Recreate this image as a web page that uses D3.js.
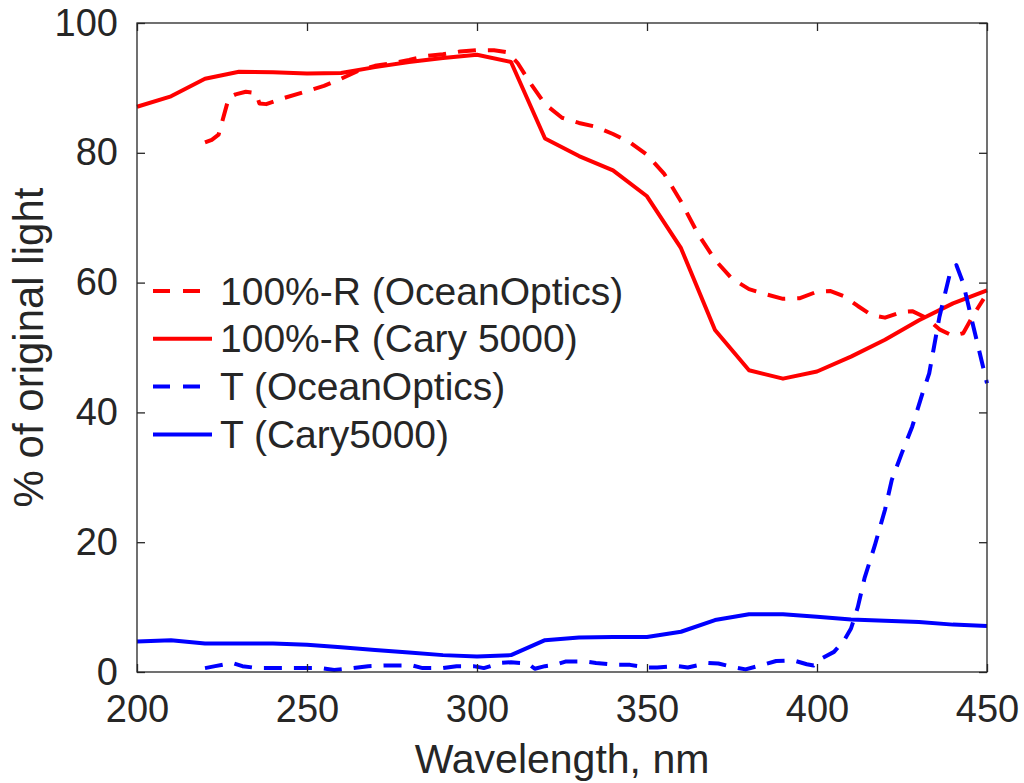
<!DOCTYPE html>
<html>
<head>
<meta charset="utf-8">
<script src="https://cdn.jsdelivr.net/npm/d3@7"></script>
<style>
  body { margin: 0; background: #fff; }
  svg text { font-family: "Liberation Sans", Arial, Helvetica, sans-serif; fill: #262626; }
</style>
</head>
<body>
<svg width="1024" height="783"></svg>
<script>
// wavelength grid of the Cary 5000 runs
var caryWl = [200, 210, 220, 230, 240, 250, 260, 270, 280, 290, 300, 310, 320,
    330, 340, 350, 360, 370, 380, 390, 400, 410, 420, 430, 440, 450];
var caryR = [87.1, 88.7, 91.4, 92.5, 92.4, 92.2, 92.3, 93.2, 94.0, 94.6, 95.1, 94.0, 82.2,
    79.5, 77.3, 73.3, 65.3, 52.7, 46.5, 45.2, 46.3, 48.6, 51.2, 54.2, 56.8, 58.8];
var caryT = [4.7, 4.9, 4.4, 4.4, 4.4, 4.2, 3.8, 3.4, 3.0, 2.6, 2.4, 2.6, 4.9,
    5.3, 5.4, 5.4, 6.2, 8.0, 8.9, 8.9, 8.5, 8.1, 7.9, 7.7, 7.3, 7.1];

// OceanOptics, 100%-R
var ooRWl = [220, 222, 224, 227, 229, 232, 235, 236, 238, 243, 250, 255, 260, 265, 270,
    275, 280, 285, 290, 295, 300, 305, 309, 312, 316, 320, 325, 330, 335, 340, 345, 350,
    355, 360, 365, 370, 375, 380, 385, 390, 395, 400, 404, 408, 412, 416, 420, 425, 428,
    432, 436, 440, 443, 446, 449];
var ooR = [81.6, 82.0, 82.8, 88.5, 89.0, 89.4, 89.2, 87.6, 87.5, 88.4, 89.5, 90.3, 91.4, 92.6, 93.4,
    93.8, 94.3, 94.9, 95.2, 95.6, 95.8, 95.8, 95.5, 93.8, 90.5, 87.5, 85.4, 84.6, 84.0, 82.9, 81.6, 79.7,
    76.8, 72.5, 67.5, 63.5, 60.6, 59.0, 58.2, 57.5, 57.6, 58.6, 58.7, 57.9, 56.4, 55.0, 54.6, 55.5, 55.6,
    54.6, 52.8, 51.8, 52.2, 55.0, 57.5];

// OceanOptics, T
var ooTWl = [220, 223, 226, 228, 231, 234, 237, 240, 245, 249, 254, 258, 262, 268, 273,
    276, 281, 284, 290, 294, 299, 302, 307, 310, 315, 317, 320, 323, 326, 332, 335, 341,
    345, 350, 353, 359, 362, 368, 371, 375, 379, 384, 388, 393, 397, 399, 401, 405, 408,
    410, 412, 414, 417, 420, 422, 425, 428, 431, 433, 436, 439, 441, 443, 446, 450];
var ooT = [0.6, 0.9, 1.2, 1.4, 0.9, 0.7, 0.6, 0.6, 0.6, 0.6, 0.6, 0.3, 0.5, 0.9, 1.0,
    1.0, 1.0, 0.6, 0.6, 0.9, 0.9, 0.6, 1.4, 1.5, 1.3, 0.5, 0.9, 1.1, 1.6, 1.6, 1.4, 1.1,
    1.1, 0.7, 0.7, 0.9, 0.7, 1.4, 1.3, 0.8, 0.4, 1.1, 1.7, 1.8, 1.2, 1.0, 2.0, 3.1, 4.9,
    6.7, 10.0, 14.5, 19.5, 25.0, 29.6, 33.8, 37.8, 42.9, 46.0, 54.7, 61.2, 62.7, 59.9, 53.2, 44.5];

var xTicks = [200, 250, 300, 350, 400, 450];
var yTicks = [0, 20, 40, 60, 80, 100];

var legendNames = ["100%-R (OceanOptics)", "100%-R (Cary 5000)", "T (OceanOptics)", "T (Cary5000)"];
var legendColors = ["#ff0000", "#ff0000", "#0000ff", "#0000ff"];
var legendDashed = [true, false, true, false];

var svg = d3.select("svg");

var x = d3.scaleLinear()
    .domain([200, 450])
    .range([137, 987]);

var y = d3.scaleLinear()
    .domain([0, 100])
    .range([672, 23]);

var axisColor = "#262626";
var dash = "18,12";

// series
var series = [
    { wl: ooRWl, v: ooR, color: legendColors[0], dashed: true },
    { wl: caryWl, v: caryR, color: legendColors[1], dashed: false },
    { wl: ooTWl, v: ooT, color: legendColors[2], dashed: true },
    { wl: caryWl, v: caryT, color: legendColors[3], dashed: false }
];

var line = d3.line()
    .x(function (d) { return x(d[0]); })
    .y(function (d) { return y(d[1]); });

svg.append("g")
    .selectAll("path")
    .data(series)
    .enter().append("path")
    .attr("d", function (s) {
        return line(s.wl.map(function (w, i) { return [w, s.v[i]]; }));
    })
    .attr("fill", "none")
    .attr("stroke", function (s) { return s.color; })
    .attr("stroke-width", 4)
    .attr("stroke-linejoin", "round")
    .attr("stroke-dasharray", function (s) { return s.dashed ? dash : null; });

// axes, inward ticks on all four sides
var xBottom = svg.append("g")
    .attr("transform", "translate(0," + y(0) + ")")
    .call(d3.axisBottom(x).tickValues(xTicks).tickSizeInner(-8).tickSizeOuter(0).tickPadding(23));
var xTop = svg.append("g")
    .attr("transform", "translate(0," + y(100) + ")")
    .call(d3.axisTop(x).tickValues(xTicks).tickSizeInner(-8).tickSizeOuter(0).tickFormat(""));
var yLeft = svg.append("g")
    .attr("transform", "translate(" + x(200) + ",0)")
    .call(d3.axisLeft(y).tickValues(yTicks).tickSizeInner(-8).tickSizeOuter(0).tickPadding(19));
var yRight = svg.append("g")
    .attr("transform", "translate(" + x(450) + ",0)")
    .call(d3.axisRight(y).tickValues(yTicks).tickSizeInner(-8).tickSizeOuter(0).tickFormat(""));

[xBottom, xTop, yLeft, yRight].forEach(function (g) {
    g.select(".domain").remove();
    g.selectAll("line").attr("stroke", axisColor).attr("stroke-width", 1.3);
    g.selectAll("text").attr("font-size", 38).attr("fill", axisColor)
        .style("font-family", "'Liberation Sans', Arial, sans-serif");
});
xBottom.selectAll("text").attr("dy", "0.71em");

svg.append("rect")
    .attr("x", x(200))
    .attr("y", y(100))
    .attr("width", x(450) - x(200))
    .attr("height", y(0) - y(100))
    .attr("fill", "none")
    .attr("stroke", axisColor)
    .attr("stroke-width", 1.3);

// axis labels
svg.append("text")
    .attr("x", (x(200) + x(450)) / 2)
    .attr("y", 773)
    .attr("text-anchor", "middle")
    .attr("font-size", 41)
    .text("Wavelength, nm");

svg.append("text")
    .attr("transform", "translate(43," + (y(0) + y(100)) / 2 + ") rotate(-90)")
    .attr("text-anchor", "middle")
    .attr("font-size", 42)
    .text("% of original light");

// legend (no box)
var leg = svg.append("g")
    .selectAll("g")
    .data(legendNames)
    .enter().append("g")
    .attr("transform", function (d, i) { return "translate(0," + (291 + i * 47.8) + ")"; });

leg.append("line")
    .attr("x1", 153)
    .attr("x2", 212)
    .attr("stroke", function (d, i) { return legendColors[i]; })
    .attr("stroke-width", 4)
    .attr("stroke-dasharray", function (d, i) { return legendDashed[i] ? "17,13" : null; });

leg.append("text")
    .attr("x", 220)
    .attr("dy", "0.35em")
    .attr("font-size", 39)
    .text(function (d) { return d; });
</script>
</body>
</html>
